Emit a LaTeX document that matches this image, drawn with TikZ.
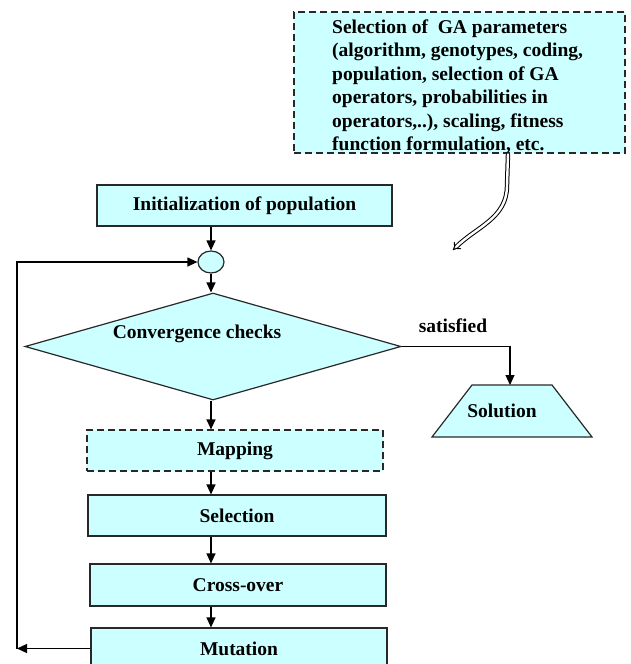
\documentclass[tikz,border=0pt]{standalone}
\usepackage{fontspec}
\setmainfont{Liberation Serif}
\usetikzlibrary{arrows.meta,shapes.geometric}
\definecolor{boxfill}{RGB}{204,255,255}
\definecolor{edge}{RGB}{40,40,40}
\begin{document}
\begin{tikzpicture}[x=1pt,y=-1pt,
  every node/.style={font=\fontsize{19.5}{23.4}\selectfont\bfseries},
  procbox/.style={draw=edge, line width=1.2pt, fill=boxfill, rectangle, minimum height=41, inner sep=0},
  dashbox/.style={procbox, dash pattern=on 7pt off 4pt},
  flow/.style={draw=black, line width=1.2pt, -{Triangle[length=10pt,width=9pt]}},
  txt/.style={inner sep=0}]
\useasboundingbox (0,0) rectangle (630,664);
\clip (0,0) rectangle (630,664);
\fill[white] (0,0) rectangle (630,664);

\node[dashbox, minimum width=331, minimum height=141] (params) at (459.5,82.5) {};
\node[txt, anchor=north west, align=left] (paramstext) at (332,19.5) {Selection of~ GA parameters\\(algorithm, genotypes, coding,\\population, selection of GA\\operators, probabilities in\\operators,..), scaling, fitness\\function formulation, etc.};

\node[procbox, minimum width=295] (init) at (244.5,205.5) {Initialization of population};
\node[ellipse, draw=edge, line width=1.2pt, fill=boxfill, minimum width=26, minimum height=22, inner sep=0] (join) at (211,262) {};
\node[diamond, draw=edge, line width=1.2pt, fill=boxfill, minimum width=376, minimum height=107, inner sep=0] (conv) at (213,346.5) {};
\node[txt] (convtext) at (197,334) {Convergence checks};
\node[dashbox, minimum width=296] (map) at (235,450.5) {Mapping};
\node[procbox, minimum width=298] (sel) at (237,515.5) {Selection};
\node[procbox, minimum width=296, minimum height=42] (cross) at (238,585) {Cross-over};
\node[procbox, minimum width=296] (mut) at (239,648.5) {Mutation};

\coordinate (s1) at (432,437);
\coordinate (s2) at (472,385);
\coordinate (s3) at (552,385);
\coordinate (s4) at (592,437);
\filldraw[draw=edge, fill=boxfill, line width=1.2pt] (s1) -- (s2) -- (s3) -- (s4) -- cycle;
\node[txt] (solution) at (502,411) {Solution};
\coordinate (soltop) at (510,385);

\draw[flow] (init.south -| join) -- (join.north);
\draw[flow] (join.south) -- (join.south |- conv.north);
\draw[flow] (join |- conv.south) -- (join |- map.north);
\draw[flow] (join |- map.south) -- (join |- sel.north);
\draw[flow] (join |- sel.south) -- (join |- cross.north);
\draw[flow] (join |- cross.south) -- (join |- mut.north);
\coordinate (loopb) at (17,648.5);
\draw[flow] (mut.west) -- (loopb);
\draw[flow] (loopb) |- (join.west);
\draw[flow] (conv.east) -| (soltop);
\node[txt] (satlabel) at (453,326) {satisfied};

\coordinate (dend) at (453,250);
\draw[line width=1pt, double, double distance=2.4pt, -{Implies[scale=1.5]}] ([xshift=48.5]params.south) -- ++(-1,32) to[out=-90,in=45] (dend);
\end{tikzpicture}
\end{document}
